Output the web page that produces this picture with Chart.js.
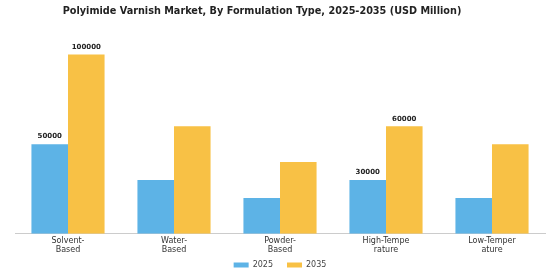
<!DOCTYPE html>
<html>
<head>
<meta charset="utf-8">
<script src="https://cdn.jsdelivr.net/npm/chart.js@4.4.1/dist/chart.umd.min.js"></script>
<style>
  html, body { margin: 0; padding: 0; background: #fff; }
  #wrap { width: 560px; height: 280px; }
</style>
</head>
<body>
<div id="wrap"><canvas id="chart" width="560" height="280"></canvas></div>
<script>
const categories = [["Solvent-", "Based"], ["Water-", "Based"], ["Powder-", "Based"], ["High-Tempe", "rature"], ["Low-Temper", "ature"]];
const values2025 = [50000, 30000, 20000, 30000, 20000];
const values2035 = [100000, 60000, 40000, 60000, 50000];
// only these bars carry a value label in the original
const labeled2025 = [true, false, false, true, false];
const labeled2035 = [true, false, false, true, false];

const LEGEND_PAD = 14;

const valueLabels = {
  id: "valueLabels",
  afterDatasetsDraw(chart) {
    const ctx = chart.ctx;
    ctx.save();
    ctx.font = "bold 7px 'DejaVu Sans', sans-serif";
    ctx.fillStyle = "#222";
    ctx.textAlign = "center";
    ctx.textBaseline = "bottom";
    const flags = [labeled2025, labeled2035];
    chart.data.datasets.forEach((ds, i) => {
      chart.getDatasetMeta(i).data.forEach((bar, j) => {
        if (!flags[i][j]) return;
        ctx.fillText(String(ds.data[j]), bar.x, bar.y - 4);
      });
    });
    ctx.restore();
  }
};

// wider gap between legend items without making the legend box taller,
// and the title sits a bit left of centre like the original
const layoutTweaks = {
  id: "layoutTweaks",
  beforeLayout(chart) {
    const lg = chart.legend;
    if (lg && !lg._fitPatched) {
      const origFit = lg.fit;
      lg.fit = function () { origFit.call(this); this.height = 23; };
      lg._fitPatched = true;
    }
  },
  afterLayout(chart) {
    const shift = LEGEND_PAD - 4;
    chart.legend.top -= shift;
    chart.legend.bottom -= shift;
    chart.titleBlock.left -= 18;
    chart.titleBlock.right -= 18;
  }
};

new Chart(document.getElementById("chart"), {
  type: "bar",
  data: {
    labels: categories,
    datasets: [
      { label: "2025", data: values2025, backgroundColor: "#5db3e6", categoryPercentage: 0.69, barPercentage: 1 },
      { label: "2035", data: values2035, backgroundColor: "#f8c145", categoryPercentage: 0.69, barPercentage: 1 }
    ]
  },
  options: {
    responsive: false,
    animation: false,
    layout: { padding: { left: 15, right: 15, top: 0, bottom: 0 } },
    plugins: {
      title: {
        display: true,
        text: "Polyimide Varnish Market, By Formulation Type, 2025-2035 (USD Million)",
        color: "#222",
        font: { family: "'DejaVu Sans', sans-serif", size: 9.7, weight: "bold" },
        padding: { top: 6, bottom: 19 }
      },
      legend: {
        position: "bottom",
        labels: { boxWidth: 15, boxHeight: 5, color: "#444", font: { family: "'DejaVu Sans', sans-serif", size: 8 }, padding: LEGEND_PAD }
      },
      tooltip: { enabled: false }
    },
    scales: {
      x: {
        grid: { display: false, drawTicks: false, tickLength: 0 },
        border: { color: "#ccc" },
        ticks: { color: "#333", font: { family: "'DejaVu Sans', sans-serif", size: 8, lineHeight: 1.2 }, padding: 2 }
      },
      y: { display: false, min: 0, max: 110000 }
    }
  },
  plugins: [valueLabels, layoutTweaks]
});
</script>
</body>
</html>
